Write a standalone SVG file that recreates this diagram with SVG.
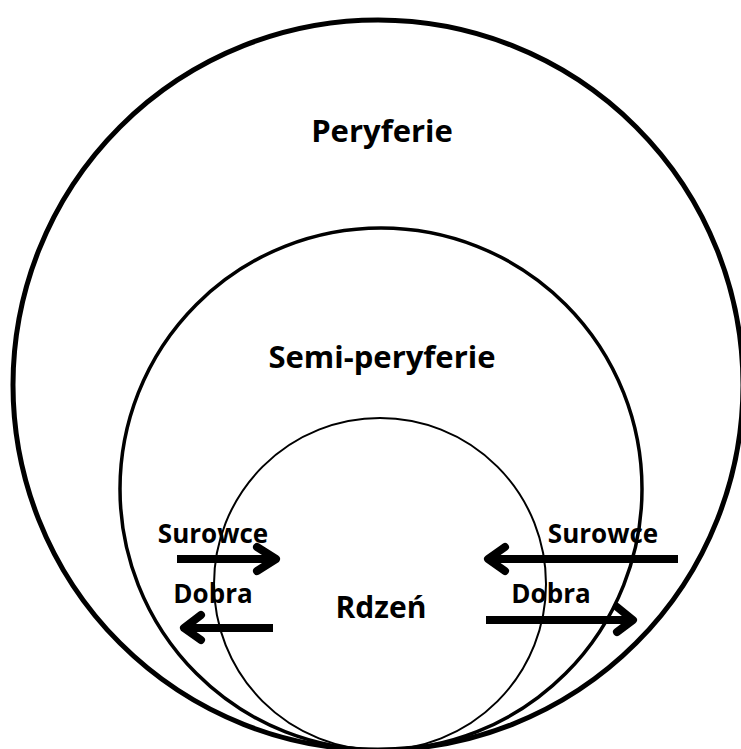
<svg xmlns="http://www.w3.org/2000/svg" width="741" height="749" viewBox="0 0 741 749">
  <style>
    .ring { fill: none; stroke: #000; }
    .label { font-family: "Open Sans", "Noto Sans", "DejaVu Sans", sans-serif; font-weight: bold; fill: #000; text-anchor: middle; }
    .shaft { fill: none; stroke: #000; stroke-width: 8; stroke-linecap: butt; }
    .head { fill: none; stroke: #000; stroke-width: 8; stroke-linecap: round; stroke-linejoin: round; }
  </style>
  <rect width="741" height="749" fill="#fff"/>

  <!-- nested zones, all touching at the bottom -->
  <g id="peryferie">
    <circle class="ring" cx="378" cy="385" r="365" stroke-width="5"/>
    <text class="label" x="382" y="142" font-size="31">Peryferie</text>
  </g>
  <g id="semi-peryferie">
    <circle class="ring" cx="381" cy="489" r="261" stroke-width="3.5"/>
    <text class="label" x="382" y="368" font-size="31">Semi-peryferie</text>
  </g>
  <g id="rdzen">
    <circle class="ring" cx="380" cy="584" r="166" stroke-width="2"/>
    <text class="label" x="381" y="618" font-size="30">Rdzeń</text>
  </g>

  <!-- flows between zones -->
  <g id="connectors">
    <g id="left-surowce">
      <path class="shaft" d="M177 559 H274"/>
      <path class="head" d="M257 547 L276 559 L257 571"/>
      <text class="label" x="213" y="543" font-size="26">Surowce</text>
    </g>
    <g id="left-dobra">
      <path class="shaft" d="M273 628 H186"/>
      <path class="head" d="M201 615 L184 628 L201 640"/>
      <text class="label" x="213" y="603" font-size="26">Dobra</text>
    </g>
    <g id="right-surowce">
      <path class="shaft" d="M678 559 H490"/>
      <path class="head" d="M505 547 L488 559 L505 571"/>
      <text class="label" x="603" y="543" font-size="26">Surowce</text>
    </g>
    <g id="right-dobra">
      <path class="shaft" d="M486 620 H631"/>
      <path class="head" d="M617 607 L633 620 L617 632"/>
      <text class="label" x="551" y="603" font-size="26">Dobra</text>
    </g>
  </g>
</svg>
